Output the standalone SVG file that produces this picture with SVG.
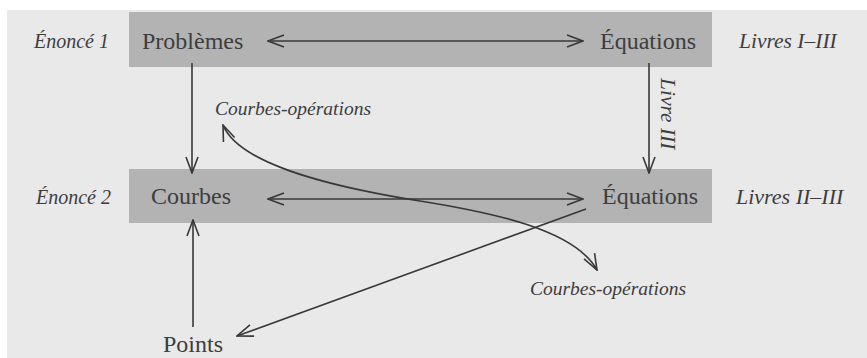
<svg xmlns="http://www.w3.org/2000/svg" width="867" height="358" viewBox="0 0 867 358">
<style>
.bg{fill:#e9e9e9}
.bar{fill:#b3b3b3}
.t{font-family:"Liberation Serif","Times New Roman",serif;font-size:24px;fill:#3d3d3d}
.i{font-family:"Liberation Serif","Times New Roman",serif;font-style:italic;font-size:20px;fill:#3d3d3d}
.c{fill:none;stroke:#383838;stroke-width:1.6}
</style>
<defs>
<marker id="ah" viewBox="0 0 18 14" refX="17" refY="7" markerWidth="18" markerHeight="14" markerUnits="userSpaceOnUse" orient="auto-start-reverse">
<path d="M1,1 L17,7 L1,13" fill="none" stroke="#383838" stroke-width="1.6"/>
</marker>
</defs>
<rect x="0" y="0" width="867" height="358" fill="#ffffff"/>
<rect class="bg" x="7" y="10" width="860" height="348"/>
<g id="row1">
<rect class="bar" x="129" y="12" width="583" height="55"/>
</g>
<g id="row2">
<rect class="bar" x="129" y="169" width="583" height="54"/>
</g>
<g id="enonce1"><text class="i" x="34" y="48">Énoncé 1</text></g>
<g id="problemes"><text class="t" x="142" y="49">Problèmes</text></g>
<g id="equations1"><text class="t" x="600" y="49">Équations</text></g>
<g id="livres1"><text class="i" x="739" y="48" style="font-size:21.5px">Livres I–III</text></g>
<g id="courbesop1"><text class="i" x="215" y="115" style="font-size:19.5px">Courbes-opérations</text></g>
<g id="livre3"><text class="i" transform="translate(661,78) rotate(90)" style="font-size:21.5px">Livre III</text></g>
<g id="enonce2"><text class="i" x="36" y="204">Énoncé 2</text></g>
<g id="courbes"><text class="t" x="151" y="204">Courbes</text></g>
<g id="equations2"><text class="t" x="602" y="204">Équations</text></g>
<g id="livres2"><text class="i" x="736" y="204" style="font-size:22px">Livres II–III</text></g>
<g id="courbesop2"><text class="i" x="530" y="295" style="font-size:19.5px">Courbes-opérations</text></g>
<g id="points"><text class="t" x="163" y="352">Points</text></g>
<g id="connectors">
<line class="c" x1="268" y1="41" x2="583" y2="41" marker-start="url(#ah)" marker-end="url(#ah)"/>
<line class="c" x1="268" y1="199" x2="583" y2="199" marker-start="url(#ah)" marker-end="url(#ah)"/>
<line class="c" x1="192" y1="63" x2="192" y2="173" marker-end="url(#ah)"/>
<line class="c" x1="649" y1="63" x2="649" y2="173" marker-end="url(#ah)"/>
<line class="c" x1="193" y1="327" x2="193" y2="220" marker-end="url(#ah)"/>
<line class="c" x1="586" y1="209" x2="237" y2="336" marker-end="url(#ah)"/>
<path class="c" d="M223,125 C238,162 320,185 420,201 C495,213 575,230 597,270" marker-start="url(#ah)" marker-end="url(#ah)"/>
</g>
</svg>
